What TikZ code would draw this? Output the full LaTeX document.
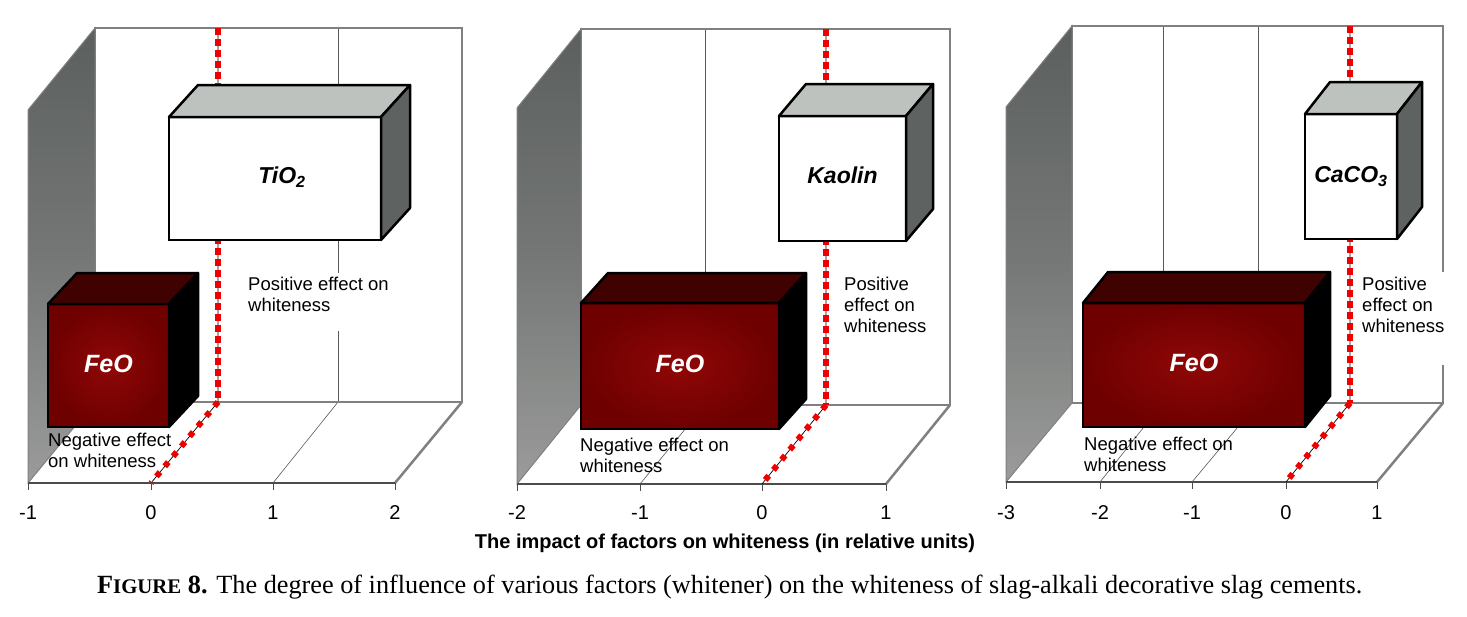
\documentclass[tikz,border=0pt]{standalone}
\usepackage{fontspec}
\setmainfont{Liberation Sans}
\newfontfamily\capfont{Liberation Serif}
\usepackage{graphicx}
\usetikzlibrary{calc}
\definecolor{wallborder}{HTML}{808080}
\definecolor{walltop}{HTML}{5B5F5D}
\definecolor{wallmid}{HTML}{747775}
\definecolor{wallbot}{HTML}{9A9B9A}
\definecolor{boxtop}{HTML}{BEC2BE}
\definecolor{boxside}{HTML}{5E6260}
\definecolor{feoin}{HTML}{900707}
\definecolor{feoout}{HTML}{6E0000}
\definecolor{feotop}{HTML}{400101}
\definecolor{dotred}{HTML}{EE0000}
\tikzset{
 wall/.style={draw=wallborder, line width=2.5pt, line join=miter},
 wallshade/.style={top color=walltop, bottom color=wallbot, middle color=wallmid, draw=wallborder, line width=1pt},
 frontline/.style={draw=black!70, line width=2pt},
 gridln/.style={draw=black!65, line width=0.6pt},
 tickmark/.style={draw=black!70, line width=1pt},
 zeroline/.style={draw=black, line width=0.7pt},
 reddashv/.style={draw=dotred, line width=6.5pt, dash pattern=on 7pt off 4pt},
 reddashd/.style={draw=dotred, line width=6pt, dash pattern=on 5.5pt off 7.5pt},
 wbox/.style={draw=black, line width=2.5pt, fill=white, inner sep=0pt, outer sep=0pt, font=\fontsize{23}{25}\selectfont\bfseries\itshape},
 rbox/.style={draw=black, line width=2.5pt, inner sep=0pt, outer sep=0pt, inner color=feoin, outer color=feoout, text=white, font=\fontsize{25}{27}\selectfont\bfseries\itshape},
 face/.style={draw=black, line width=2.5pt, line join=round},
 lbl/.style={anchor=north west, inner sep=0pt, align=left, font=\fontsize{18.5}{21}\selectfont},
 ticklbl/.style={anchor=base, inner sep=0pt, font=\fontsize{20}{24}\selectfont},
}
\newcommand{\cubefaces}[5]{%
 \filldraw[face, fill=#4] (#1.north west) -- ++(#2,#3) -- ($(#1.north east)+(#2,#3)$) -- (#1.north east) -- cycle;
 \filldraw[face, fill=#5] (#1.north east) -- ++(#2,#3) -- ($(#1.south east)+(#2,#3)$) -- (#1.south east) -- cycle;
}
\begin{document}
\begin{tikzpicture}[x=1pt,y=-1pt]
\useasboundingbox (0,0) rectangle (1467,616);
\fill[white] (0,0) rectangle (1467,616);

% ================= Panel 1 =================
\fill[white] (95,28) rectangle (462,402);
\draw[gridln] (338,28) -- (338,402);
\draw[gridln] (273,483) -- (338,402);
\draw[wall] (95,402) -- (95,28) -- (462,28) -- (462,402) -- cycle;
\draw[wall] (462,402) -- (395,483);
\shade[wallshade] (28,483) -- (28,110) -- (95,28) -- (95,402) -- cycle;
\draw[frontline] (28,483) -- (395,483);
\foreach \x in {28,151,273,395} \draw[tickmark] (\x,483) -- (\x,490);
\coordinate (za1) at (218,28);
\coordinate (zb1) at (218,402);
\coordinate (zc1) at (151,483);
\draw[zeroline] (za1) -- (zb1) -- (zc1);
\draw[reddashv] (za1) -- (zb1);
\draw[reddashd] (zb1) -- (zc1);
\node[wbox, minimum width=212pt, minimum height=123pt] (tio2) at (275,178.5) {\hspace{14pt}\raisebox{6pt}{TiO\textsubscript{2}}};
\cubefaces{tio2}{29}{-32}{boxtop}{boxside}
\node[rbox, minimum width=121pt, minimum height=123pt] (feo1) at (108.5,365.5) {\raisebox{4pt}{FeO}};
\cubefaces{feo1}{29}{-31}{feotop}{black}
\fill[white] (244,273) rectangle (395,331);
\node[lbl] (pos1) at (248,277) {Positive effect on\\whiteness};
\node[lbl] (neg1) at (48,433) {Negative effect\\on whiteness};
\node[ticklbl] (t1a) at (28,519) {-1};
\node[ticklbl] (t1b) at (151,519) {0};
\node[ticklbl] (t1c) at (273,519) {1};
\node[ticklbl] (t1d) at (395,519) {2};

% ================= Panel 2 =================
\fill[white] (581,29) rectangle (950,405);
\draw[gridln] (705,29) -- (705,405);
\draw[gridln] (640,484) -- (705,405);
\draw[wall] (581,405) -- (581,29) -- (950,29) -- (950,405) -- cycle;
\draw[wall] (950,405) -- (886,484);
\shade[wallshade] (517,484) -- (517,108) -- (581,29) -- (581,405) -- cycle;
\draw[frontline] (517,484) -- (886,484);
\foreach \x in {517,640,762,886} \draw[tickmark] (\x,484) -- (\x,491);
\coordinate (za2) at (826,29);
\coordinate (zb2) at (826,405);
\coordinate (zc2) at (762,484);
\draw[zeroline] (za2) -- (zb2) -- (zc2);
\draw[reddashv] (za2) -- (zb2);
\draw[reddashd] (zb2) -- (zc2);
\node[wbox, minimum width=127pt, minimum height=125pt] (kaolin) at (842.5,178.5) {\raisebox{6pt}{Kaolin}};
\cubefaces{kaolin}{27}{-32}{boxtop}{boxside}
\node[rbox, minimum width=198pt, minimum height=126pt] (feo2) at (680,366) {\raisebox{5pt}{FeO}};
\cubefaces{feo2}{27}{-30}{feotop}{black}
\node[lbl] (pos2) at (844,277) {Positive\\effect on\\whiteness};
\node[lbl] (neg2) at (580,438) {Negative effect on\\whiteness};
\node[ticklbl] (t2a) at (517,519) {-2};
\node[ticklbl] (t2b) at (640,519) {-1};
\node[ticklbl] (t2c) at (762,519) {0};
\node[ticklbl] (t2d) at (886,519) {1};

% ================= Panel 3 =================
\fill[white] (1072,26) rectangle (1443,403);
\draw[gridln] (1163,26) -- (1163,403);
\draw[gridln] (1258,26) -- (1258,403);
\draw[gridln] (1100,482) -- (1163,403);
\draw[gridln] (1192,482) -- (1258,403);
\draw[wall] (1072,403) -- (1072,26) -- (1443,26) -- (1443,403) -- cycle;
\draw[wall] (1443,403) -- (1377,482);
\shade[wallshade] (1006,482) -- (1006,107) -- (1072,26) -- (1072,403) -- cycle;
\draw[frontline] (1006,482) -- (1377,482);
\foreach \x in {1006,1100,1192,1286,1377} \draw[tickmark] (\x,482) -- (\x,489);
\coordinate (za3) at (1350,26);
\coordinate (zb3) at (1350,403);
\coordinate (zc3) at (1286,482);
\draw[zeroline] (za3) -- (zb3) -- (zc3);
\draw[reddashv] (za3) -- (zb3);
\draw[reddashd] (zb3) -- (zc3);
\node[wbox, minimum width=92pt, minimum height=125pt] (caco3) at (1351,176.5) {CaCO\textsubscript{3}};
\cubefaces{caco3}{25}{-32}{boxtop}{boxside}
\node[rbox, minimum width=222pt, minimum height=124pt] (feo3) at (1194,365) {\raisebox{4pt}{FeO}};
\cubefaces{feo3}{25}{-31}{feotop}{black}
\fill[white] (1356,272) rectangle (1449,365);
\node[lbl] (pos3) at (1362,277) {Positive\\effect on\\whiteness};
\node[lbl] (neg3) at (1084,437) {Negative effect on\\whiteness};
\node[ticklbl] (t3a) at (1006,519) {-3};
\node[ticklbl] (t3b) at (1100,519) {-2};
\node[ticklbl] (t3c) at (1192,519) {-1};
\node[ticklbl] (t3d) at (1286,519) {0};
\node[ticklbl] (t3e) at (1377,519) {1};

% ================= Titles =================
\node[anchor=base, inner sep=0pt, font=\fontsize{20}{24}\selectfont\bfseries] (axtitle) at (725,548) {The impact of factors on whiteness (in relative units)};
\node[anchor=base west, inner sep=0pt] (caption) at (97,593) {\resizebox{1265pt}{!}{\capfont\fontsize{24}{28}\selectfont\textbf{F{\fontsize{19}{28}\selectfont IGURE} 8.} The degree of influence of various factors (whitener) on the whiteness of slag-alkali decorative slag cements.}};
\end{tikzpicture}
\end{document}
